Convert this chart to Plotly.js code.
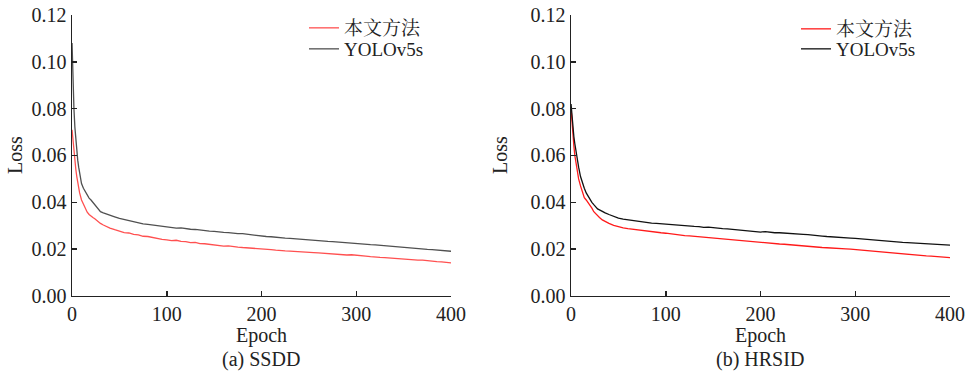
<!DOCTYPE html>
<html>
<head>
<meta charset="utf-8">
<script src="https://cdn.plot.ly/plotly-3.0.1.min.js"></script>
<style>html,body{margin:0;padding:0;background:#fff;}#chart{width:971px;height:371px;}</style>
</head>
<body>
<div id="chart"></div>
<script>
const epochs = [0,1,2,3,4,5,6,7,8,10,12,14,16,18,20,22,24,26,28,30,33,36,40,45,
  50,55,60,65,70,75,80,85,90,95,100,105,110,115,120,125,130,135,140,145,150,155,160,165,170,175,
  180,185,190,195,200,205,210,215,220,225,230,235,240,245,250,255,260,265,270,275,280,285,290,295,
  300,305,310,315,320,325,330,335,340,345,350,355,360,365,370,375,380,385,390,395,400];

const seriesNames = ["本文方法", "YOLOv5s"];
const panelTitles = ["(a) SSDD", "(b) HRSID"];
const xTicks = [0,100,200,300,400];
const yTicks = [0,0.02,0.04,0.06,0.08,0.10,0.12];

// (a) SSDD
const ssddOurs = [0.071,0.066,0.061,0.057,0.054,0.051,0.048,0.046,0.044,0.041,0.039,0.037,0.0358,0.0348,0.034,0.0335,0.033,0.0322,0.0316,0.031,0.0303,0.0296,0.029,0.0283,
  0.0276,0.0271,0.0269,0.0263,0.0261,0.0255,0.0254,0.0249,0.0247,0.0242,0.0240,0.0236,0.0238,0.0233,0.0232,0.0228,0.0229,0.0224,0.0223,0.0220,0.0218,0.0216,0.0213,0.0214,0.0210,0.0209,
  0.0207,0.0206,0.0203,0.0204,0.0201,0.0199,0.0198,0.0196,0.0196,0.0193,0.0192,0.0190,0.0191,0.0188,0.0187,0.0185,0.0184,0.0182,0.0182,0.0179,0.0178,0.0177,0.0175,0.0176,
  0.0173,0.0171,0.0170,0.0168,0.0168,0.0165,0.0164,0.0162,0.0161,0.0159,0.0158,0.0156,0.0155,0.0153,0.0153,0.0150,0.0149,0.0147,0.0146,0.0143,0.0141];
const ssddYolo = [0.108,0.090,0.080,0.072,0.066,0.062,0.058,0.055,0.052,0.048,0.046,0.0445,0.043,0.0418,0.041,0.040,0.039,0.0375,0.0366,0.036,0.0355,0.035,0.0345,0.0338,
  0.0331,0.0326,0.0322,0.0316,0.0312,0.0308,0.0306,0.0303,0.0301,0.0298,0.0296,0.0293,0.0290,0.0291,0.0287,0.0285,0.0284,0.0281,0.0279,0.0277,0.0276,0.0273,0.0272,0.0271,0.0268,0.0266,
  0.0266,0.0263,0.0261,0.0258,0.0256,0.0254,0.0253,0.0250,0.0250,0.0247,0.0246,0.0244,0.0243,0.0242,0.0240,0.0238,0.0236,0.0235,0.0233,0.0232,0.0230,0.0229,0.0228,0.0226,
  0.0224,0.0222,0.0221,0.0219,0.0218,0.0216,0.0214,0.0213,0.0211,0.0209,0.0207,0.0206,0.0204,0.0202,0.0201,0.0199,0.0198,0.0197,0.0195,0.0193,0.0191];

// (b) HRSID
const hrsidOurs = [0.080,0.073,0.068,0.064,0.060,0.057,0.054,0.052,0.050,0.047,0.044,0.042,0.041,0.040,0.039,0.0375,0.036,0.035,0.034,0.0335,0.0325,0.0318,0.031,0.0302,
  0.0296,0.0291,0.0288,0.0285,0.0282,0.0280,0.0277,0.0275,0.0272,0.0270,0.0268,0.0265,0.0263,0.0261,0.0258,0.0257,0.0255,0.0254,0.0252,0.0250,0.0249,0.0247,0.0244,0.0243,0.0242,0.0240,
  0.0238,0.0236,0.0234,0.0231,0.0229,0.0227,0.0226,0.0224,0.0222,0.0221,0.0219,0.0216,0.0217,0.0215,0.0213,0.0211,0.0209,0.0207,0.0206,0.0204,0.0203,0.0201,0.0201,0.0200,
  0.0198,0.0196,0.0194,0.0193,0.0190,0.0188,0.0186,0.0185,0.0183,0.0181,0.0180,0.0178,0.0176,0.0175,0.0173,0.0171,0.0170,0.0168,0.0167,0.0166,0.0164];
const hrsidYolo = [0.082,0.076,0.072,0.068,0.065,0.062,0.060,0.057,0.055,0.051,0.048,0.046,0.044,0.0425,0.041,0.040,0.039,0.038,0.0372,0.0368,0.036,0.0355,0.0348,0.034,
  0.0333,0.0328,0.0325,0.0322,0.0318,0.0317,0.0313,0.0311,0.0310,0.0308,0.0306,0.0305,0.0302,0.0301,0.0300,0.0298,0.0297,0.0296,0.0293,0.0294,0.0291,0.0290,0.0288,0.0287,0.0285,0.0284,
  0.0282,0.0281,0.0279,0.0276,0.0273,0.0275,0.0272,0.0270,0.0270,0.0268,0.0266,0.0265,0.0264,0.0263,0.0262,0.0259,0.0257,0.0256,0.0254,0.0252,0.0251,0.0250,0.0248,0.0247,
  0.0246,0.0244,0.0243,0.0241,0.0240,0.0238,0.0236,0.0234,0.0232,0.0231,0.0229,0.0228,0.0227,0.0226,0.0225,0.0223,0.0222,0.0221,0.0220,0.0219,0.0217];

const FONT = "Liberation Serif, Times New Roman, Noto Serif CJK SC, Noto Sans CJK SC, serif";
const FS = 20;

const traces = [
  {x: epochs, y: ssddOurs, name: seriesNames[0], type: "scatter", mode: "lines", xaxis: "x", yaxis: "y",
   line: {color: "#ff5050", width: 1.3}, legend: "legend"},
  {x: epochs, y: ssddYolo, name: seriesNames[1], type: "scatter", mode: "lines", xaxis: "x", yaxis: "y",
   line: {color: "#505050", width: 1.3}, legend: "legend3"},
  {x: epochs, y: hrsidOurs, name: seriesNames[0], type: "scatter", mode: "lines", xaxis: "x2", yaxis: "y2",
   line: {color: "#ff1a1a", width: 1.3}, legend: "legend2"},
  {x: epochs, y: hrsidYolo, name: seriesNames[1], type: "scatter", mode: "lines", xaxis: "x2", yaxis: "y2",
   line: {color: "#111111", width: 1.3}, legend: "legend4"}
];

function xax(domain, anchor) {
  return {domain: domain, anchor: anchor, range: [0, 400], tickvals: xTicks, ticks: "inside", ticklen: 5, tickwidth: 1.5,
    tickcolor: "#222", showline: true, linecolor: "#222", linewidth: 1.5, showgrid: false, zeroline: false,
    tickfont: {family: FONT, size: FS, color: "#222"}, fixedrange: true};
}
function yax(anchor) {
  return {domain: [0.2022, 0.9596], anchor: anchor, range: [0, 0.12], tickvals: yTicks, tickformat: ".2f",
    ticks: "inside", ticklen: 5, tickwidth: 1.5, tickcolor: "#222", showline: true, linecolor: "#222", linewidth: 1.5,
    showgrid: false, zeroline: false, tickfont: {family: FONT, size: FS, color: "#222"}, fixedrange: true};
}

const legendBase = {font: {family: FONT, size: 19, color: "#222"}, bgcolor: "rgba(0,0,0,0)", borderwidth: 0,
  xanchor: "left", yanchor: "middle", tracegroupgap: 0, itemwidth: 30};

function ann(text, x, y, angle) {
  return {text: text, xref: "paper", yref: "paper", x: x / 971, y: 1 - y / 371, xanchor: "center", yanchor: "middle",
    textangle: angle || 0, showarrow: false, font: {family: FONT, size: FS, color: "#222"}};
}

const layout = {
  width: 971, height: 371,
  margin: {l: 0, r: 0, t: 0, b: 0},
  paper_bgcolor: "#fff", plot_bgcolor: "#fff",
  showlegend: true,
  xaxis: xax([0.0742, 0.4645], "y"),
  yaxis: yax("x"),
  xaxis2: xax([0.5881, 0.9784], "y2"),
  yaxis2: yax("x2"),
  legend: Object.assign({}, legendBase, {x: 304 / 971, y: 1 - 28 / 371}),
  legend3: Object.assign({}, legendBase, {x: 304 / 971, y: 1 - 49 / 371}),
  legend2: Object.assign({}, legendBase, {x: 796 / 971, y: 1 - 29 / 371}),
  legend4: Object.assign({}, legendBase, {x: 796 / 971, y: 1 - 49 / 371}),
  annotations: [
    ann("Loss", 15, 155, -90),
    ann("Loss", 500, 155, -90),
    ann("Epoch", 261, 335),
    ann("Epoch", 760, 335),
    ann(panelTitles[0], 261, 359),
    ann(panelTitles[1], 760, 359)
  ]
};

Plotly.newPlot("chart", traces, layout, {displayModeBar: false, staticPlot: true});
</script>
</body>
</html>
